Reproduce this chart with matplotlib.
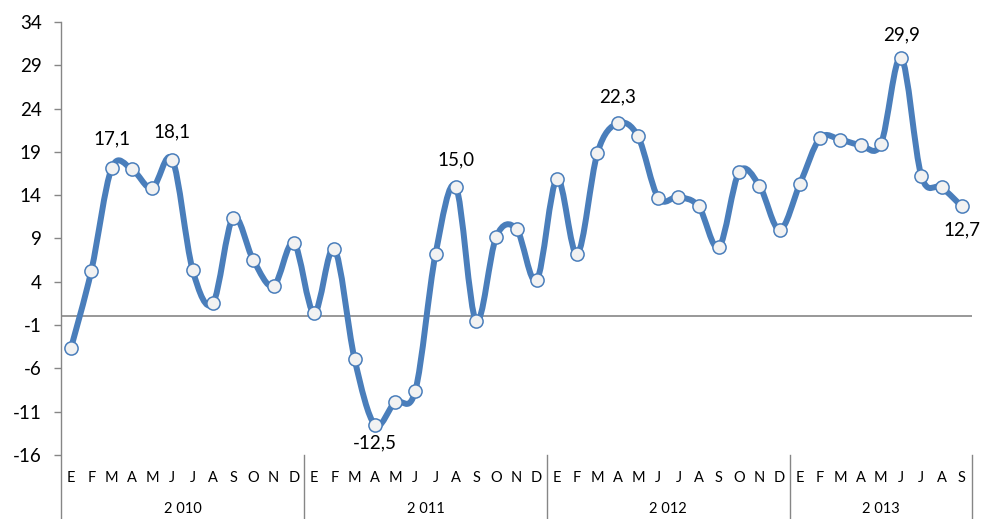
import numpy as np
import matplotlib.pyplot as plt
from matplotlib.path import Path
from matplotlib.patches import PathPatch

plt.rcParams['font.family'] = ['Lato', 'DejaVu Sans']
plt.rcParams['axes.unicode_minus'] = False

# monthly values, Jan 2010 - Sep 2013
years = ['2 010', '2 011', '2 012', '2 013']
months = ['E', 'F', 'M', 'A', 'M', 'J', 'J', 'A', 'S', 'O', 'N', 'D']
months_per_year = [12, 12, 12, 9]
values = [
    -3.6, 5.3, 17.1, 17.0, 14.8, 18.1, 5.4, 1.5, 11.4, 6.5, 3.5, 8.5,       # 2010
    0.4, 7.8, -4.9, -12.5, -9.9, -8.6, 7.2, 15.0, -0.5, 9.2, 10.1, 4.2,     # 2011
    15.9, 7.2, 18.9, 22.3, 20.8, 13.7, 13.8, 12.7, 8.0, 16.7, 15.1, 10.0,   # 2012
    15.3, 20.6, 20.4, 19.8, 19.9, 29.9, 16.2, 14.9, 12.7,                   # 2013
]
# labelled points: index -> offset in points (above +, below -)
labelled = {2: 21, 5: 20, 15: -13, 19: 19, 27: 19, 41: 16, 44: -17}

blue = '#4a7ebb'
grey = '#868686'

x = np.arange(len(values))
y = np.array(values)

fig = plt.figure(figsize=(9.81, 5.19), dpi=100)
ax = fig.add_axes([61 / 981, 64 / 519, 911 / 981, 433 / 519])

# smoothed line like Excel: cubic bezier segments through the points
verts = [(x[0], y[0])]
codes = [Path.MOVETO]
n = len(x)
for i in range(n - 1):
    p0 = np.array([x[max(i - 1, 0)], y[max(i - 1, 0)]])
    p1 = np.array([x[i], y[i]])
    p2 = np.array([x[i + 1], y[i + 1]])
    p3 = np.array([x[min(i + 2, n - 1)], y[min(i + 2, n - 1)]])
    c1 = p1 + (p2 - p0) / 6
    c2 = p2 - (p3 - p1) / 6
    verts += [tuple(c1), tuple(c2), tuple(p2)]
    codes += [Path.CURVE4] * 3
ax.add_patch(PathPatch(Path(verts, codes), facecolor='none', edgecolor=blue,
                       lw=4.3, capstyle='round', joinstyle='round', zorder=3))

ax.plot(x, y, linestyle='none', marker='o', markersize=9.5, markerfacecolor='#f2f2f2',
        markeredgecolor=blue, markeredgewidth=1.1, zorder=4)

for i, off in labelled.items():
    ax.annotate(f'{values[i]:.1f}'.replace('.', ','), (x[i], y[i]), xytext=(0, off),
                textcoords='offset points', ha='center', va='center', fontsize=13.5)

ax.axhline(0, color=grey, lw=1.2, zorder=1)

ax.set_xlim(-0.5, len(values) - 0.5)
ax.set_ylim(-16, 34)
ticks = list(range(-16, 35, 5))
ax.set_yticks(ticks)
ax.set_yticklabels([str(t) for t in ticks], fontsize=13.5)
ax.set_xticks([])
ax.tick_params(axis='y', length=5, width=1, color=grey, pad=9)
for s in ax.spines.values():
    s.set_visible(False)

# category axis below the plot
tr = ax.get_xaxis_transform()
bottom = -64 / 433
ax.plot([-0.5, -0.5], [1, bottom], transform=tr, color=grey, lw=1, clip_on=False)
start = 0
for yr, cnt in zip(years, months_per_year):
    for k in range(cnt):
        ax.text(start + k, -0.053, months[k], transform=tr, ha='center', va='center',
                fontsize=10.5)
    ax.text(start + (cnt - 1) / 2, -0.125, yr, transform=tr, ha='center', va='center',
            fontsize=10.5)
    end = start + cnt - 0.5
    ax.plot([end, end], [0, bottom], transform=tr, color=grey, lw=1, clip_on=False)
    start += cnt

fig.savefig('out.png', dpi=100)
